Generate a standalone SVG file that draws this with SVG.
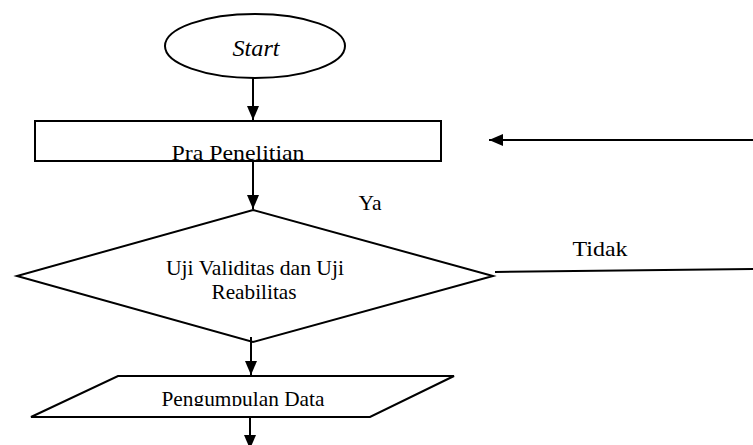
<svg xmlns="http://www.w3.org/2000/svg" width="753" height="445" viewBox="0 0 753 445">
<defs>
<style>
.s{fill:#fff;stroke:#000;stroke-width:2}
.l{fill:none;stroke:#000;stroke-width:2}
.t{font-family:"Liberation Serif","Times New Roman",serif;fill:#000;text-anchor:middle}
</style>
<marker id="ah" viewBox="0 0 14 12" refX="14" refY="6" markerWidth="7" markerHeight="6" markerUnits="strokeWidth" orient="auto">
<path d="M0,0 L14,6 L0,12 Z" fill="#000"/>
</marker>
<clipPath id="cpPra"><rect x="36" y="122" width="404" height="38"/></clipPath>
<clipPath id="cpPeng"><rect x="30" y="377" width="420" height="29"/></clipPath>
</defs>
<rect width="753" height="445" fill="#fff"/>
<g id="start">
<ellipse class="s" cx="255" cy="46" rx="90" ry="32"/>
<text class="t" x="256" y="56" font-size="23" font-style="italic" textLength="47" lengthAdjust="spacingAndGlyphs">Start</text>
</g>
<g id="pra">
<rect class="s" x="35" y="121" width="406" height="40"/>
<text class="t" x="238" y="160" font-size="22" textLength="133" lengthAdjust="spacingAndGlyphs" clip-path="url(#cpPra)">Pra Penelitian</text>
</g>
<g id="uji">
<polygon class="s" points="253,210 493,276 253,342 17,276"/>
<text class="t" x="255" y="275" font-size="22" textLength="178" lengthAdjust="spacingAndGlyphs">Uji Validitas dan Uji</text>
<text class="t" x="254" y="299" font-size="22" textLength="85" lengthAdjust="spacingAndGlyphs">Reabilitas</text>
</g>
<g id="pengumpulan">
<polygon class="s" points="118,376 454,376 370,417 31,417"/>
<text class="t" x="243" y="406" font-size="22" textLength="163" lengthAdjust="spacingAndGlyphs" clip-path="url(#cpPeng)">Pengumpulan Data</text>
</g>
<g id="labels">
<text class="t" x="370" y="210" font-size="21" textLength="23" lengthAdjust="spacingAndGlyphs">Ya</text>
<text class="t" x="600" y="256" font-size="22" textLength="55" lengthAdjust="spacingAndGlyphs">Tidak</text>
</g>
<g id="connectors">
<line class="l" x1="253" y1="78" x2="253" y2="120" marker-end="url(#ah)"/>
<line class="l" x1="253" y1="161" x2="253" y2="209" marker-end="url(#ah)"/>
<line class="l" x1="251" y1="337" x2="251" y2="375" marker-end="url(#ah)"/>
<line class="l" x1="250" y1="417" x2="250" y2="449" marker-end="url(#ah)"/>
<line class="l" x1="495" y1="272" x2="753" y2="269"/>
<line class="l" x1="753" y1="140" x2="489" y2="140" marker-end="url(#ah)"/>
</g>
</svg>
